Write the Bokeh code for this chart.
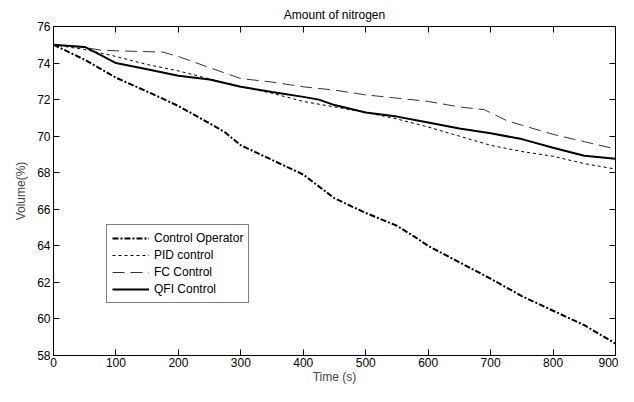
from bokeh.plotting import figure
from bokeh.models import Range1d, LinearAxis, FixedTicker, Legend, LegendItem
from bokeh.embed import file_html
from bokeh.resources import INLINE

# ---- data ----
t_op = [0, 50, 100, 150, 200, 250, 275, 300, 350, 400, 450, 475, 500, 550, 578, 600, 650, 700, 750, 800, 850, 900]
v_op = [75.0, 74.18, 73.2, 72.44, 71.65, 70.7, 70.2, 69.5, 68.7, 67.9, 66.6, 66.2, 65.8, 65.1, 64.5, 64.0, 63.1, 62.2, 61.25, 60.45, 59.66, 58.65]

t_pid = [0, 50, 100, 150, 200, 250, 300, 350, 400, 450, 500, 550, 600, 650, 700, 750, 800, 850, 900]
v_pid = [75.0, 74.74, 74.36, 73.92, 73.57, 73.13, 72.7, 72.35, 71.9, 71.6, 71.3, 70.94, 70.5, 70.0, 69.5, 69.16, 68.9, 68.5, 68.2]

t_fc = [0, 50, 75, 100, 175, 200, 250, 300, 350, 400, 450, 500, 600, 650, 690, 725, 750, 800, 850, 900]
v_fc = [75.0, 74.85, 74.71, 74.67, 74.6, 74.36, 73.75, 73.15, 72.96, 72.7, 72.52, 72.26, 71.9, 71.6, 71.45, 70.86, 70.6, 70.1, 69.7, 69.3]

t_qfi = [0, 50, 75, 100, 150, 200, 250, 300, 350, 400, 425, 450, 500, 550, 600, 650, 700, 750, 800, 850, 900]
v_qfi = [75.0, 74.88, 74.45, 74.0, 73.66, 73.31, 73.1, 72.7, 72.42, 72.15, 72.0, 71.7, 71.3, 71.07, 70.75, 70.42, 70.16, 69.84, 69.37, 68.93, 68.76]

x_ticks = [0, 100, 200, 300, 400, 500, 600, 700, 800, 900]
y_ticks = [58, 60, 62, 64, 66, 68, 70, 72, 74, 76]

names = ["Control Operator", "PID control", "FC Control", "QFI Control"]
title_text = "Amount of nitrogen"
x_label = "Time (s)"
y_label = "Volume(%)"

FONT = "Liberation Sans"

p = figure(width=618, height=386, output_backend="svg", toolbar_location=None,
           x_range=Range1d(0, 900), y_range=Range1d(58, 76),
           min_border_left=53, min_border_right=3, min_border_top=0, min_border_bottom=0,
           x_axis_location=None, y_axis_location=None)
p.title.text = title_text
p.title.text_font = FONT
p.title.text_font_size = "12px"
p.title.text_font_style = "normal"
p.title.align = "center"
p.title.text_color = "black"

p.grid.visible = False
p.outline_line_color = "black"
p.outline_line_width = 1
p.background_fill_color = "white"
p.border_fill_color = "white"

def make_axis(ticks, labels=True):
    ax = LinearAxis(ticker=FixedTicker(ticks=ticks))
    ax.axis_line_color = "black"
    ax.major_tick_line_color = "black"
    ax.major_tick_in = 6
    ax.major_tick_out = 0
    ax.minor_tick_line_color = None
    if labels:
        ax.major_label_text_font = FONT
        ax.major_label_text_font_size = "12px"
        ax.major_label_text_color = "black"
    else:
        ax.major_label_text_color = None
        ax.major_label_text_font_size = "1px"
        ax.major_label_standoff = 0
    return ax

xb = make_axis(x_ticks)
xb.major_label_standoff = 2
xb.axis_label = x_label
xb.axis_label_text_font = FONT
xb.axis_label_text_font_size = "12px"
xb.axis_label_text_font_style = "normal"
xb.axis_label_standoff = 0
p.add_layout(xb, "below")

yl = make_axis(y_ticks)
yl.major_label_standoff = 3
yl.axis_label = y_label
yl.axis_label_text_font = FONT
yl.axis_label_text_font_size = "12px"
yl.axis_label_text_font_style = "normal"
yl.axis_label_standoff = 6
p.add_layout(yl, "left")

xt = make_axis(x_ticks, labels=False)
p.add_layout(xt, "above")
yr = make_axis(y_ticks, labels=False)
p.add_layout(yr, "right")

r_op = p.line(t_op, v_op, line_color="black", line_width=2, line_dash="6 2 2 2")
r_pid = p.line(t_pid, v_pid, line_color="black", line_width=1, line_dash="3 3")
r_fc = p.line(t_fc, v_fc, line_color="#333333", line_width=1, line_dash="12 6")
r_qfi = p.line(t_qfi, v_qfi, line_color="black", line_width=2)

legend = Legend(items=[LegendItem(label=n, renderers=[r]) for n, r in
                       zip(names, [r_op, r_pid, r_fc, r_qfi])],
                location=(53, 52))
legend.border_line_color = "black"
legend.border_line_width = 1
legend.background_fill_color = "white"
legend.background_fill_alpha = 1
legend.label_text_font = FONT
legend.label_text_font_size = "12px"
legend.label_text_color = "black"
legend.glyph_width = 37
legend.glyph_height = 16
legend.label_height = 16
legend.label_standoff = 5
legend.spacing = 1
legend.padding = 5
legend.margin = 0
p.add_layout(legend, "center")

open("out.html", "w").write(file_html(p, INLINE))
